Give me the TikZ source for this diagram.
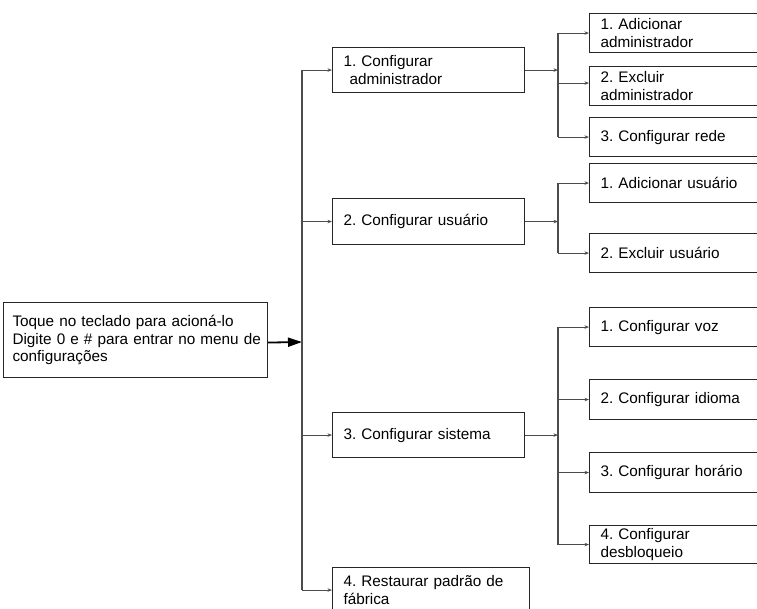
\documentclass[tikz,border=0pt]{standalone}
\usepackage{fontspec}
\setmainfont{Liberation Sans}
\usetikzlibrary{arrows.meta}
\begin{document}
\frenchspacing
\begin{tikzpicture}[x=1pt,y=1pt,
  every node/.style={font=\fontsize{15.3pt}{17.8pt}\selectfont},
  boxbase/.style={draw=black!85, line width=1.1pt, anchor=north west, align=left, inner ysep=0pt, inner xsep=11pt},
  mainbox/.style={boxbase, inner xsep=9pt, text width=246pt, minimum height=75pt},
  lbox/.style={boxbase, text width=170pt},
  rbox/.style={boxbase, text width=189pt},
  conn/.style={draw=black!70, line width=0.9pt},
  arr/.style={conn, -{Stealth[length=4.5pt,width=3.5pt]}},
  bigarr/.style={draw=black, line width=1.8pt, -{Triangle[length=14pt,width=9pt]}}
]
\useasboundingbox (0,0) rectangle (757,-608);
\clip (0,0) rectangle (757,-608);
\fill[white] (0,0) rectangle (757,-608);

% main box
\node[mainbox] (main) at (3,-302) {\mbox{Toque no teclado para acioná-lo}\\\mbox{Digite 0 e \# para entrar no menu de}\\\mbox{configurações}};

% level 1
\node[lbox, minimum height=45pt] (a1) at (332,-47) {1. Configurar\\\hspace*{6pt}administrador};
\node[lbox, minimum height=46pt] (a2) at (332,-198) {2. Configurar usuário};
\node[lbox, minimum height=45pt] (a3) at (332,-412) {3. Configurar sistema};
\node[lbox, text width=175pt, minimum height=45pt] (a4) at (332,-567) {4. Restaurar padrão de\\fábrica};

% level 2
\node[rbox, minimum height=39pt] (b1) at (589,-13) {1. Adicionar\\administrador};
\node[rbox, minimum height=39pt] (b2) at (589,-66) {2. Excluir\\administrador};
\node[rbox, minimum height=39pt] (b3) at (589,-117) {3. Configurar rede};

\node[rbox, minimum height=39pt] (c1) at (589,-163) {1. Adicionar usuário};
\node[rbox, minimum height=39pt] (c2) at (589,-233) {2. Excluir usuário};

\node[rbox, minimum height=39pt] (d1) at (589,-307) {1. Configurar voz};
\node[rbox, minimum height=40pt] (d2) at (589,-379) {2. Configurar idioma};
\node[rbox, minimum height=40pt] (d3) at (589,-452) {3. Configurar horário};
\node[rbox, minimum height=38pt] (d4) at (589,-525) {4. Configurar\\desbloqueio};

% trunk
\coordinate (tk) at (302,-342);
\coordinate (gx) at (558,0);

\draw[bigarr] ([yshift=-2.5pt]main.east) -- (tk);
\draw[conn, line width=1.2pt] (a1.west -| tk) -- (a4.west -| tk);
\foreach \n in {a1,a2,a3,a4} \draw[arr] (\n.west -| tk) -- (\n.west);

% group 1
\draw[arr] (a1.east) -- (a1.east -| gx);
\draw[conn, line width=1.2pt] (b1.west -| gx) -- (b3.west -| gx);
\draw[arr] ([yshift=3pt]b2.west -| gx) -- ([yshift=3pt]b2.west);
\foreach \n in {b1,b3} \draw[arr] (\n.west -| gx) -- (\n.west);

% group 2
\draw[arr] (a2.east) -- (a2.east -| gx);
\draw[conn, line width=1.2pt] (c1.west -| gx) -- (c2.west -| gx);
\foreach \n in {c1,c2} \draw[arr] (\n.west -| gx) -- (\n.west);

% group 3
\draw[arr] (a3.east) -- (a3.east -| gx);
\draw[conn, line width=1.2pt] (d1.west -| gx) -- (d4.west -| gx);
\foreach \n in {d1,d2,d3,d4} \draw[arr] (\n.west -| gx) -- (\n.west);
\end{tikzpicture}
\end{document}
